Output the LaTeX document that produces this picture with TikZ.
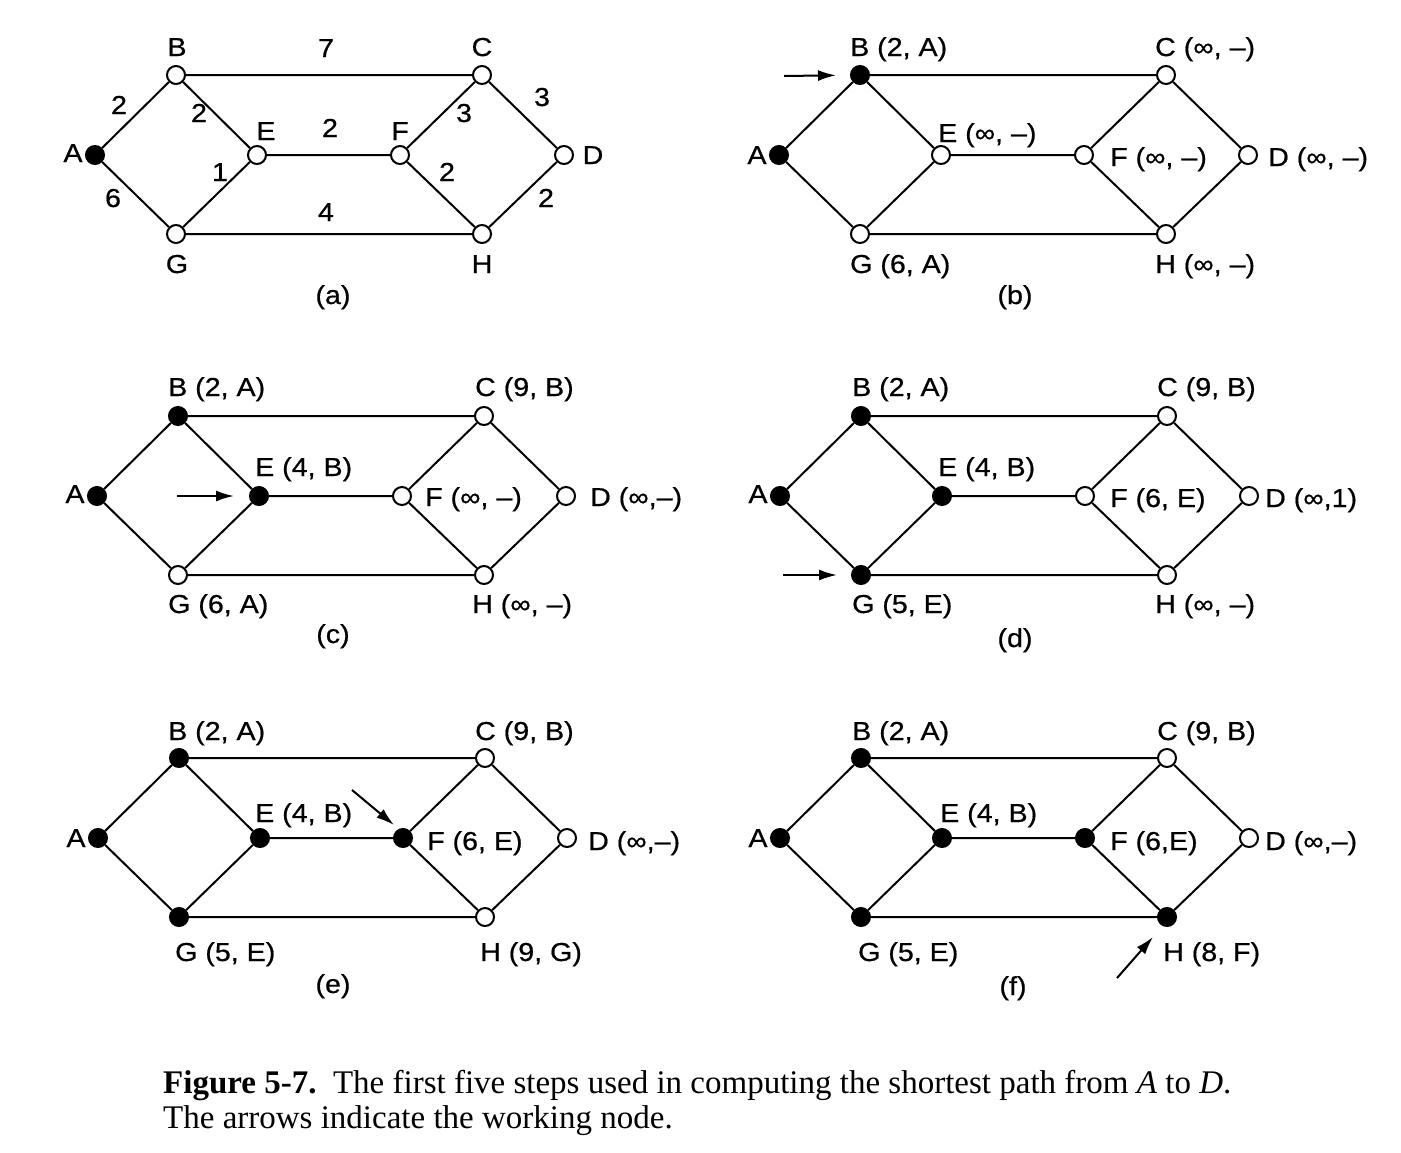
\documentclass[tikz,border=0pt]{standalone}
\usepackage{fontspec}
\setmainfont{Liberation Serif}
\newfontfamily\lblfamily{Liberation Sans}[FakeStretch=1.1, FakeBold=0.6]
\usetikzlibrary{arrows.meta}
\tikzset{
  vtx/.style={circle, draw, line width=2pt, minimum size=18pt, inner sep=0pt, fill=white},
  open/.style={vtx},
  done/.style={vtx, fill=black},
  nA/.style={open}, nB/.style={open}, nC/.style={open}, nD/.style={open},
  nE/.style={open}, nF/.style={open}, nG/.style={open}, nH/.style={open},
  edge/.style={line width=2pt},
  lbl/.style={font=\lblfamily\fontsize{26}{30}\selectfont, inner sep=0pt},
  lw/.style={lbl, anchor=base west},
  lc/.style={lbl, anchor=base},
  work/.style={-{Latex[length=18pt,width=11pt]}, line width=2pt},
  captext/.style={font=\fontsize{33}{38}\selectfont, inner sep=0pt, anchor=base west}
}
\newcommand\gpanel[1]{%
  \node[nA] (#1A) at (0,0) {};
  \node[nB] (#1B) at (81,-80) {};
  \node[nE] (#1E) at (162,0) {};
  \node[nF] (#1F) at (305,0) {};
  \node[nC] (#1C) at (387,-80) {};
  \node[nD] (#1D) at (469,0) {};
  \node[nG] (#1G) at (81,79) {};
  \node[nH] (#1H) at (387,79) {};
  \draw[edge] (#1A)--(#1B) (#1B)--(#1C) (#1B)--(#1E) (#1A)--(#1G) (#1G)--(#1E)
    (#1E)--(#1F) (#1F)--(#1C) (#1C)--(#1D) (#1F)--(#1H) (#1H)--(#1D) (#1G)--(#1H);
}
\begin{document}
\begin{tikzpicture}[x=1pt,y=-1pt]
\fill[white] (0,0) rectangle (1401,1152);
\useasboundingbox (0,0) rectangle (1401,1152);

% ---------- (a)
\begin{scope}[shift={(95,155)}, nA/.style={done}]
  \gpanel{a}
\end{scope}
\node[lc] (aAl) at (73,162) {A};
\node[lc] (aBl) at (177,56) {B};
\node[lc] (aCl) at (482,56) {C};
\node[lc] (aDl) at (593,164) {D};
\node[lc] (aEl) at (266,140) {E};
\node[lc] (aFl) at (400,140) {F};
\node[lc] (aGl) at (177,273) {G};
\node[lc] (aHl) at (482,273) {H};
\node[lc] (acap) at (333,304) {(a)};
\node[lc] (w1) at (326,57) {7};
\node[lc] (w2) at (119,114) {2};
\node[lc] (w3) at (199,122) {2};
\node[lc] (w4) at (220,181) {1};
\node[lc] (w5) at (113,207) {6};
\node[lc] (w6) at (330,137) {2};
\node[lc] (w7) at (464,122) {3};
\node[lc] (w8) at (542,106) {3};
\node[lc] (w9) at (447,181) {2};
\node[lc] (w10) at (546,207) {2};
\node[lc] (w11) at (326,221) {4};

% ---------- (b)
\begin{scope}[shift={(779,155)}, nA/.style={done}, nB/.style={done}]
  \gpanel{b}
\end{scope}
\node[lc] (bAl) at (757,164) {A};
\node[lw] (bBl) at (850,56) {B (2, A)};
\node[lw] (bCl) at (1155,56) {C (∞, –)};
\node[lw] (bEl) at (938,142) {E (∞, –)};
\node[lw] (bFl) at (1110,166) {F (∞, –)};
\node[lw] (bDl) at (1268,166) {D (∞, –)};
\node[lw] (bGl) at (850,273) {G (6, A)};
\node[lw] (bHl) at (1155,273) {H (∞, –)};
\node[lc] (bcap) at (1015,304) {(b)};
\coordinate (bW) at (784,76);
\draw[work, shorten >=14pt] (bW) -- (bB);

% ---------- (c)
\begin{scope}[shift={(97,496)}, nA/.style={done}, nB/.style={done}, nE/.style={done}]
  \gpanel{c}
\end{scope}
\node[lc] (cAl) at (75,503) {A};
\node[lw] (cBl) at (168,396) {B (2, A)};
\node[lw] (cCl) at (475,396) {C (9, B)};
\node[lw] (cEl) at (255,476) {E (4, B)};
\node[lw] (cFl) at (425,506) {F (∞, –)};
\node[lw] (cDl) at (590,506) {D (∞,–)};
\node[lw] (cGl) at (168,613) {G (6, A)};
\node[lw] (cHl) at (472,613) {H (∞, –)};
\node[lc] (ccap) at (333,643) {(c)};
\coordinate (cW) at (177,496);
\draw[work, shorten >=15pt] (cW) -- (cE);

% ---------- (d)
\begin{scope}[shift={(780,496)}, nA/.style={done}, nB/.style={done}, nE/.style={done}, nG/.style={done}]
  \gpanel{d}
\end{scope}
\node[lc] (dAl) at (758,503) {A};
\node[lw] (dBl) at (852,396) {B (2, A)};
\node[lw] (dCl) at (1157,396) {C (9, B)};
\node[lw] (dEl) at (938,476) {E (4, B)};
\node[lw] (dFl) at (1110,507) {F (6, E)};
\node[lw] (dDl) at (1265,507) {D (∞,1)};
\node[lw] (dGl) at (852,613) {G (5, E)};
\node[lw] (dHl) at (1155,613) {H (∞, –)};
\node[lc] (dcap) at (1015,647) {(d)};
\coordinate (dW) at (783,575);
\draw[work, shorten >=14pt] (dW) -- (dG);

% ---------- (e)
\begin{scope}[shift={(98,838)}, nA/.style={done}, nB/.style={done}, nE/.style={done}, nG/.style={done}, nF/.style={done}]
  \gpanel{e}
\end{scope}
\node[lc] (eAl) at (76,847) {A};
\node[lw] (eBl) at (168,740) {B (2, A)};
\node[lw] (eCl) at (475,740) {C (9, B)};
\node[lw] (eEl) at (255,822) {E (4, B)};
\node[lw] (eFl) at (427,850) {F (6, E)};
\node[lw] (eDl) at (588,850) {D (∞,–)};
\node[lw] (eGl) at (175,961) {G (5, E)};
\node[lw] (eHl) at (480,961) {H (9, G)};
\node[lc] (ecap) at (333,993) {(e)};
\coordinate (eW1) at (352,790);
\coordinate (eW2) at (394,825);
\draw[work] (eW1) -- (eW2);

% ---------- (f)
\begin{scope}[shift={(780,838)}, nA/.style={done}, nB/.style={done}, nE/.style={done}, nG/.style={done}, nF/.style={done}, nH/.style={done}]
  \gpanel{f}
\end{scope}
\node[lc] (fAl) at (758,847) {A};
\node[lw] (fBl) at (852,740) {B (2, A)};
\node[lw] (fCl) at (1157,740) {C (9, B)};
\node[lw] (fEl) at (940,822) {E (4, B)};
\node[lw] (fFl) at (1110,850) {F (6,E)};
\node[lw] (fDl) at (1265,850) {D (∞,–)};
\node[lw] (fGl) at (858,961) {G (5, E)};
\node[lw] (fHl) at (1163,961) {H (8, F)};
\node[lc] (fcap) at (1013,995) {(f)};
\coordinate (fW1) at (1117,978);
\coordinate (fW2) at (1153,937);
\draw[work] (fW1) -- (fW2);

% ---------- caption
\node[captext] (cap1) at (163,1093) {\textbf{Figure 5-7.}\ \ The first five steps used in computing the shortest path from \textit{A} to \textit{D}.};
\node[captext] (cap2) at (163,1128) {The arrows indicate the working node.};
\end{tikzpicture}
\end{document}
